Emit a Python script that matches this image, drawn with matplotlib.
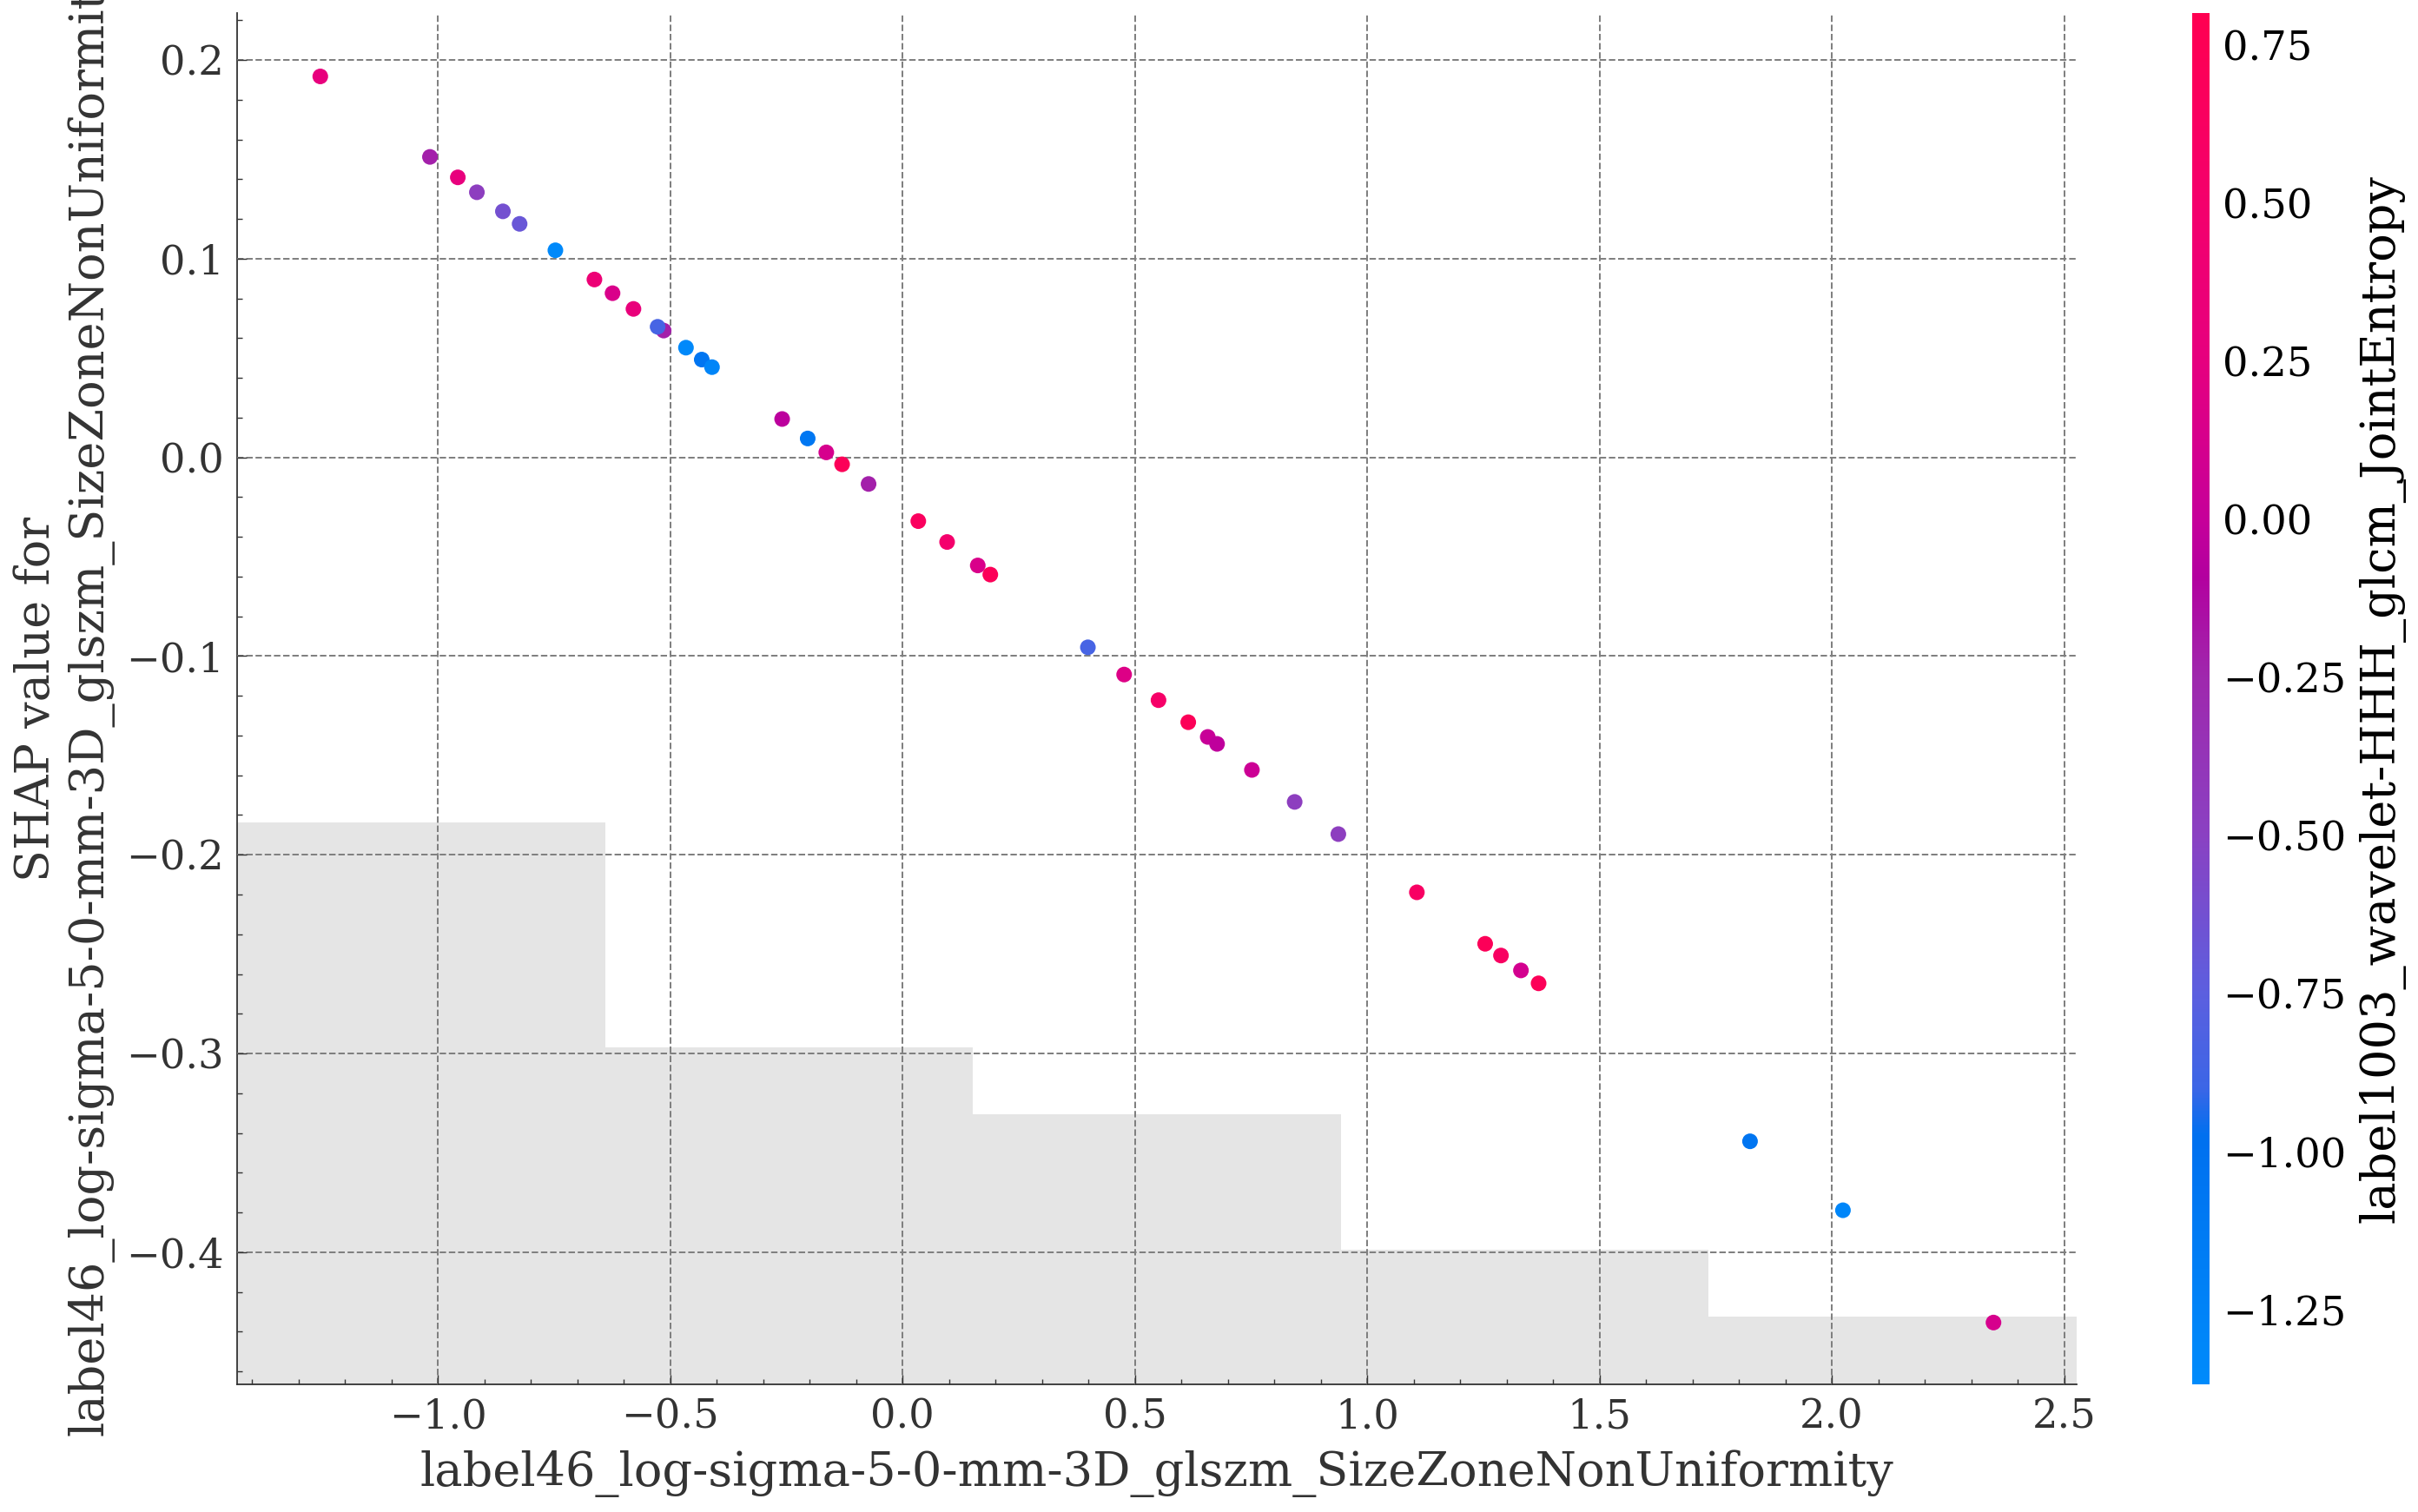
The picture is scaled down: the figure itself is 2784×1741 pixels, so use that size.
import matplotlib
matplotlib.use("Agg")
import matplotlib.pyplot as plt
from matplotlib.colors import LinearSegmentedColormap
from matplotlib.ticker import AutoMinorLocator, MultipleLocator

W, H, DPI = 2784, 1741, 200
plt.rcParams['font.family'] = ['DejaVu Serif']

xlabel = "label46_log-sigma-5-0-mm-3D_glszm_SizeZoneNonUniformity"
ylabel = "SHAP value for\n" + xlabel
cbar_label = "label1003_wavelet-HHH_glcm_JointEntropy"

feature_x = [-1.253, -1.017, -0.957, -0.916, -0.860, -0.824, -0.747, -0.663, -0.624, -0.579,
             -0.514, -0.527, -0.466, -0.432, -0.410, -0.259, -0.204, -0.164, -0.130, -0.073,
             0.034, 0.096, 0.162, 0.189, 0.399, 0.477, 0.551, 0.615, 0.657, 0.677,
             0.752, 0.844, 0.938, 1.107, 1.254, 1.288, 1.331, 1.369, 1.824, 2.024, 2.348]
shap_y = [0.1917, 0.1512, 0.1409, 0.1334, 0.1238, 0.1175, 0.1042, 0.0895, 0.0826, 0.0747,
          0.0638, 0.0657, 0.0552, 0.0492, 0.0454, 0.0193, 0.0095, 0.0025, -0.0035, -0.0134,
          -0.0321, -0.0426, -0.0544, -0.0590, -0.0956, -0.1093, -0.1222, -0.1333, -0.1407, -0.1442,
          -0.1573, -0.1734, -0.1896, -0.2189, -0.2448, -0.2507, -0.2582, -0.2647, -0.3442, -0.3789, -0.4354]
color_v = [0.28, -0.22, 0.28, -0.47, -0.62, -0.68, -1.33, 0.38, 0.15, 0.30,
           -0.22, -0.85, -1.33, -1.05, -1.28, -0.05, -1.08, 0.12, 0.72, -0.22,
           0.65, 0.50, 0.15, 0.72, -0.85, 0.18, 0.55, 0.72, 0.02, -0.03,
           0.05, -0.47, -0.47, 0.60, 0.72, 0.62, 0.10, 0.72, -1.05, -1.30, 0.12]

hist_edges = [-1.432, -0.640, 0.152, 0.944, 1.735, 2.527]
hist_counts = [25, 15, 12, 6, 3]
hist_total = 61

cmap_values = [-1.368, -0.975, -0.90, -0.75, -0.50, -0.25, -0.09, 0.0, 0.25, 0.50, 0.80]
cmap_colors = ['#008bfb', '#0070ef', '#3c66e6', '#5c5fdf', '#8a41c2', '#9f28ad',
               '#b3009f', '#c6009a', '#e6007f', '#f4006c', '#ff0051']
vmin, vmax = cmap_values[0], cmap_values[-1]
cmap = LinearSegmentedColormap.from_list(
    'shap_like', [((v - vmin) / (vmax - vmin), c) for v, c in zip(cmap_values, cmap_colors)], N=512)

INK = '#333333'
GRID = '#808080'
FS_TICK = 16.7
FS_LABEL = 19.5

fig = plt.figure(figsize=(W / DPI, H / DPI), dpi=DPI)


def rect(l, t, r, b):
    return [l / W, 1 - b / H, (r - l) / W, (b - t) / H]


ax = fig.add_axes(rect(273, 15, 2391, 1594))
ax2 = ax.twinx()
ax.set_zorder(ax2.get_zorder() + 1)
ax.patch.set_visible(False)

widths = [b - a for a, b in zip(hist_edges[:-1], hist_edges[1:])]
ax2.bar(hist_edges[:-1], hist_counts, width=widths, align='edge', color='#000000', alpha=0.1, linewidth=0)
ax2.set_ylim(0, hist_total)
ax2.set_yticks([])
for s in ax2.spines.values():
    s.set_visible(False)

sc = ax.scatter(feature_x, shap_y, c=color_v, cmap=cmap, vmin=vmin, vmax=vmax, s=42, linewidths=0, zorder=3)

ax.set_xlim(hist_edges[0], hist_edges[-1])
ax.set_ylim(-0.4665, 0.2236)
ax.xaxis.set_major_locator(MultipleLocator(0.5))
ax.yaxis.set_major_locator(MultipleLocator(0.1))
ax.xaxis.set_minor_locator(AutoMinorLocator(5))
ax.yaxis.set_minor_locator(AutoMinorLocator(5))
ax.tick_params(axis='both', which='major', direction='in', length=4, width=0.5, color=INK,
               labelcolor=INK, labelsize=FS_TICK, pad=5.5)
ax.tick_params(axis='both', which='minor', direction='in', length=2, width=0.5, color=INK)
ax.grid(True, which='major', color=GRID, linestyle='--', linewidth=0.72)
ax.set_axisbelow(False)
for name in ('top', 'right'):
    ax.spines[name].set_visible(False)
for name in ('left', 'bottom'):
    ax.spines[name].set_color(INK)
    ax.spines[name].set_linewidth(0.65)

ax.set_xlabel(xlabel, fontsize=FS_LABEL, color=INK, labelpad=5.5)
ax.set_ylabel(ylabel, fontsize=FS_LABEL, color=INK, labelpad=5)

cax = fig.add_axes(rect(2524, 15, 2544, 1594))
cbar = fig.colorbar(sc, cax=cax)
cbar.outline.set_visible(False)
cbar.ax.tick_params(length=0, labelsize=FS_TICK, pad=5.5, labelcolor='black')
cbar.set_label(cbar_label, fontsize=FS_LABEL, color='black', labelpad=5)

fig.savefig('out.png', dpi=DPI, facecolor='white')
